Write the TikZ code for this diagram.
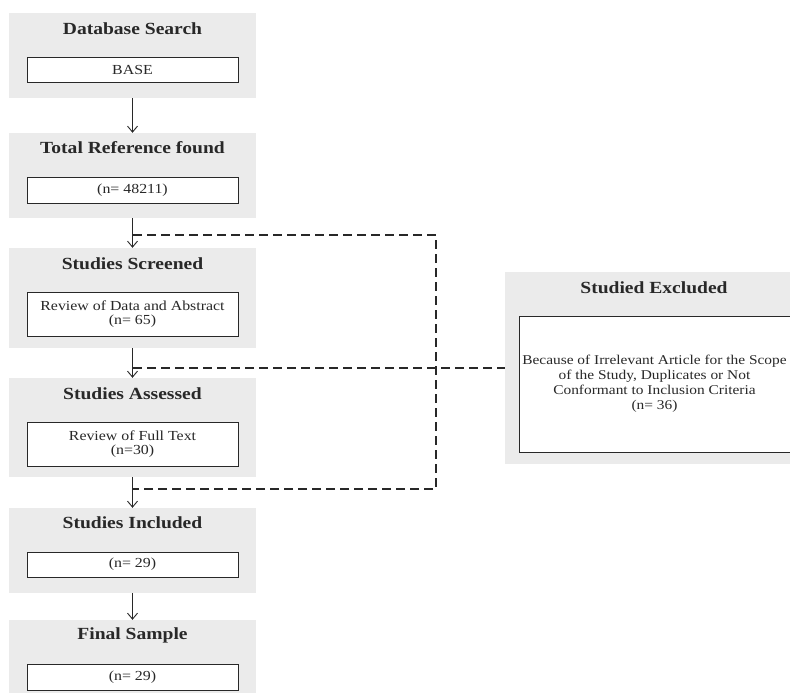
\documentclass[tikz,border=0pt]{standalone}
\usepackage{fontspec}
\setmainfont{Liberation Serif}[FakeStretch=1.15]
\usetikzlibrary{arrows.meta, positioning}
\definecolor{panelgray}{RGB}{235,235,235}
\definecolor{inkgray}{RGB}{40,40,40}

\begin{document}
\begin{tikzpicture}[x=1pt, y=-1pt,
        panel/.style={fill=panelgray, inner sep=0, minimum width=247pt},
        title/.style={text=inkgray, inner sep=0, font=\fontsize{17}{20}\selectfont\bfseries},
        inbox/.style={draw=inkgray, fill=white, line width=0.9pt, inner sep=0, minimum width=211pt, align=center, text=inkgray, font=\fontsize{13.8}{14.5}\selectfont},
        flow/.style={-{Straight Barb[length=6pt,width=10pt]}, line width=0.9pt, inkgray},
        skip/.style={dash pattern=on 9pt off 5pt, line width=1.2pt, inkgray}]
        \useasboundingbox (0,0) rectangle (790,693);

        % Left column panels
        \node[panel, minimum height=85pt] (p1) at (132.5,55.5) {};
        \node[panel, minimum height=85pt] (p2) at (132.5,175.5) {};
        \node[panel, minimum height=100pt] (p3) at (132.5,298) {};
        \node[panel, minimum height=99pt] (p4) at (132.5,427.5) {};
        \node[panel, minimum height=85pt] (p5) at (132.5,550.5) {};
        \node[panel, minimum height=73pt] (p6) at (132.5,656.5) {};

        % Titles
        \node[title] (t1) at (132.5,29) {Database Search};
        \node[title] (t2) at (132.5,148) {Total Reference found};
        \node[title] (t3) at (132.5,264) {Studies Screened};
        \node[title] (t4) at (132.5,394) {Studies Assessed};
        \node[title] (t5) at (132.5,523) {Studies Included};
        \node[title] (t6) at (132.5,635) {Final Sample};

        % Inner boxes
        \node[inbox, minimum height=25pt] (b1) at (132.5,69.5) {BASE};
        \node[inbox, minimum height=26pt] (b2) at (132.5,190) {(n= 48211)};
        \node[inbox, minimum height=44pt] (b3) at (132.5,314) {Review of Data and Abstract\\(n= 65)};
        \node[inbox, minimum height=44pt] (b4) at (132.5,444) {Review of Full Text\\(n=30)};
        \node[inbox, minimum height=25pt] (b5) at (132.5,564.5) {(n= 29)};
        \node[inbox, minimum height=26pt] (b6) at (132.5,677) {(n= 29)};

        % Excluded studies
        \node[panel, minimum width=285pt, minimum height=192pt] (ex) at (647.5,368) {};
        \node[title] (tx) at (654,288) {Studied Excluded};
        \node[inbox, minimum width=271pt, minimum height=136pt, font=\fontsize{13.4}{15}\selectfont] (bx) at (654.5,384)
            {Because of Irrelevant Article for the Scope\\of the Study, Duplicates or Not\\Conformant to Inclusion Criteria\\(n= 36)};

        % Main flow
        \draw[flow] (p1.south) -- (p2.north);
        \draw[flow] (p2.south) -- (p3.north);
        \draw[flow] (p3.south) -- (p4.north);
        \draw[flow] (p4.south) -- (p5.north);
        \draw[flow] (p5.south) -- (p6.north);

        % Exclusion links
        \coordinate (j1) at (133,235);
        \coordinate (j2) at (133,368);
        \coordinate (j3) at (133,489);
        \coordinate (c1) at (436,235);
        \coordinate (c3) at (436,489);
        \draw[skip] (j1) -- (c1) -- (c3) -- (j3);
        \draw[skip] (j2) -- (ex.west);
    \end{tikzpicture}
\end{document}
